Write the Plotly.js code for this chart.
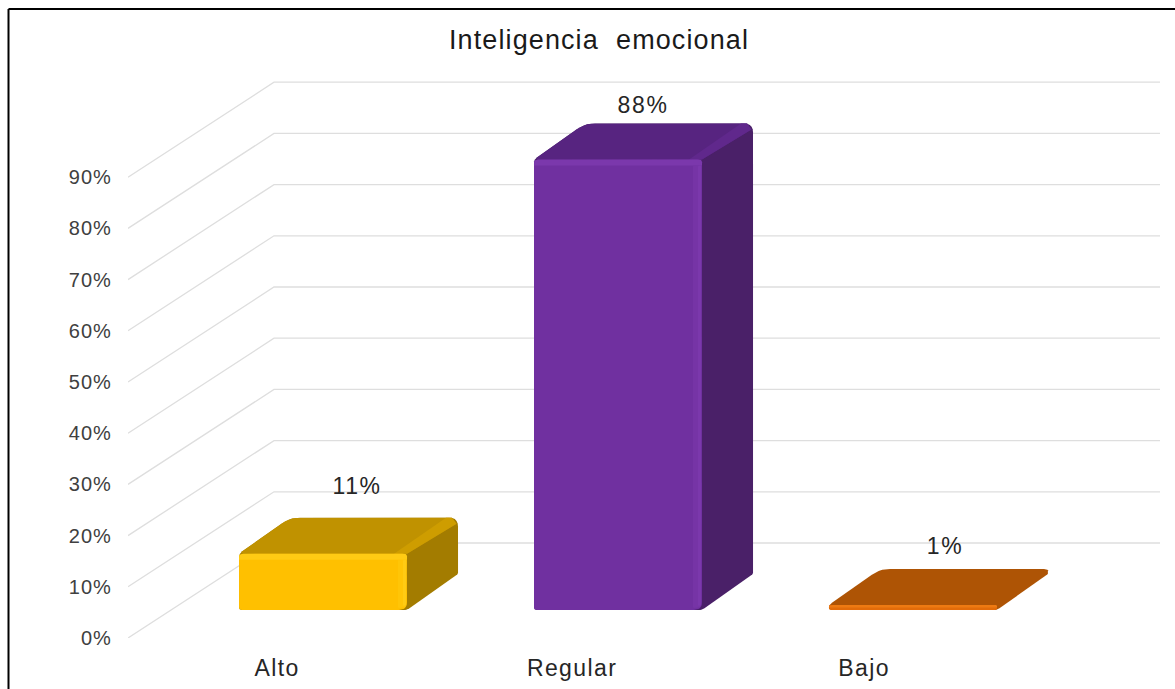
<!DOCTYPE html>
<html>
<head>
<meta charset="utf-8">
<script src="https://cdn.plot.ly/plotly-3.0.1.min.js"></script>
<style>
html,body{margin:0;padding:0;background:#fff;overflow:hidden}
#chart{width:1175px;height:689px}
.gtitle{letter-spacing:1.1px}
.ytick text{letter-spacing:1.1px}
.xtick text{letter-spacing:1.4px}
.textpoint text{letter-spacing:1.6px}
</style>
</head>
<body>
<div id="chart"></div>
<script>
// ---- data
const categories = ['Alto', 'Regular', 'Bajo'];
const values = [11, 88, 1];
const valueLabels = ['11%', '88%', '1%'];
const yTicks = [0, 10, 20, 30, 40, 50, 60, 70, 80, 90];
const frontColors = ['#FFC000', '#7030A0', '#E36C0A'];
const topColors = ['#C09200', '#572480', '#AE5405'];
const sideColors = ['#A37C00', '#4A2068', '#AE5405'];
const rimColors = ['#FFCB14', '#7B38AC', '#EE7A12'];
const sheenColors = ['#FFC507', '#7634A6', '#E36C0A'];
const edgeColors = ['#CE9D00', '#60288C', '#AE5405'];

// ---- oblique projection parameters (axis units)
const W = 1175, H = 689;
const M = {l: 128, r: 15, t: 60, b: 51};
const pxX = 295, pxY = 5.12;               // px per x unit, px per percent
const xRange = [-152 / pxX, (W - M.r - M.l - 152) / pxX];
const yRange = [0, (H - M.t - M.b) / pxY];
const depthX = 146 / pxX, depthY = 95 / pxY;  // wall depth in axis units
const d0 = 28 / 95;                        // bar front depth
const barDX = 51 / pxX, barDY = 36 / pxY;  // bar depth offset
const barW = 168 / pxX;
const project = (x, v, d) => [x + d * depthX, v + d * depthY];

function rounded(pts, radii) {
  const out = [[], []];
  const n = pts.length;
  for (let i = 0; i < n; i++) {
    const p = pts[i], a = pts[(i + n - 1) % n], b = pts[(i + 1) % n];
    const r = Array.isArray(radii) ? radii[i] : radii;
    const la = Math.hypot((a[0] - p[0]) * pxX, (a[1] - p[1]) * pxY);
    const lb = Math.hypot((b[0] - p[0]) * pxX, (b[1] - p[1]) * pxY);
    const ra = Math.min(r, la * 0.45), rb = Math.min(r, lb * 0.45);
    const s = [p[0] + (a[0] - p[0]) * (la ? ra / la : 0), p[1] + (a[1] - p[1]) * (la ? ra / la : 0)];
    const e = [p[0] + (b[0] - p[0]) * (lb ? rb / lb : 0), p[1] + (b[1] - p[1]) * (lb ? rb / lb : 0)];
    for (let k = 0; k <= 5; k++) {
      const t = k / 5, u = 1 - t;
      out[0].push(u * u * s[0] + 2 * u * t * p[0] + t * t * e[0]);
      out[1].push(u * u * s[1] + 2 * u * t * p[1] + t * t * e[1]);
    }
  }
  out[0].push(out[0][0]); out[1].push(out[1][0]);
  return out;
}
function poly(pts, color, r) {
  const c = rounded(pts, r || 0);
  return {type: 'scatter', mode: 'lines', x: c[0], y: c[1], fill: 'toself', fillcolor: color,
          line: {width: 0, color: color}, hoverinfo: 'skip', showlegend: false};
}

const traces = [];
// wall grid
yTicks.forEach(v => {
  const a = project(xRange[0], v, 0), b = project(xRange[0], v, 1);
  traces.push({type: 'scatter', mode: 'lines', x: [a[0], b[0], xRange[1]], y: [a[1], b[1], b[1]],
               line: {color: '#DEDEDE', width: 1.3}, hoverinfo: 'skip', showlegend: false});
});
// bars
categories.forEach((c, i) => {
  const v = values[i];
  const x0 = i - barW / 2, x1 = i + barW / 2;
  const fbl = project(x0, 0, d0), fbr = project(x1, 0, d0), ftr = project(x1, v, d0), ftl = project(x0, v, d0);
  const back = p => [p[0] + barDX, p[1] + barDY];
  const bbr = back(fbr), btr = back(ftr), btl = back(ftl);
  const tall = v > 3;
  // silhouette carries the side colour and the rounded outer corners
  traces.push(poly([ftl, btl, btr, bbr, fbr, fbl], sideColors[i], [4, 10, tall ? 9 : 4, 1, 3, 3]));
  if (tall) {
    const offs = (p, dx, dy) => [p[0] + dx / pxX, p[1] + dy / pxY];
    const E = offs(btr, -1.5, -6), R = offs(btr, -6, 0), R2 = offs(btr, -12, 0);
    traces.push(poly([ftl, ftr, E, R, btl], topColors[i], [4, 0, 0, 0, 10]));
    traces.push(poly([ftr, E, R, R2, offs(ftr, -13, 0)], edgeColors[i], 0));
  }
  traces.push(poly([fbl, fbr, ftr, ftl], frontColors[i], [3, tall ? 8 : 2, 5, 5]));
  // front bevel highlights
  const rimH = Math.min(6 / pxY, v * 0.5);
  if (tall) {
    const inset = 9 / pxX, inset2 = 4 / pxX, lift = 2 / pxY;
    traces.push(poly([[ftr[0] - inset, fbr[1] + lift], [fbr[0] - 2 / pxX, fbr[1] + lift], [ftr[0], ftr[1] - rimH], [ftr[0] - inset, ftr[1] - rimH]], sheenColors[i], 1));
    traces.push(poly([[ftr[0] - inset2, fbr[1] + lift * 2], [fbr[0] - 1 / pxX, fbr[1] + lift * 2], [ftr[0], ftr[1] - rimH], [ftr[0] - inset2, ftr[1] - rimH]], rimColors[i], 1));
  }
  traces.push(poly([[ftl[0], ftl[1] - rimH], [ftr[0], ftr[1] - rimH], ftr, ftl], rimColors[i], [0, 0, 4, 4]));
});
// value labels
const labelOffX = [34, 25, 32].map(p => p / pxX);
const labelOffY = [65, 52, 57].map(p => p / pxY);
traces.push({type: 'scatter', mode: 'text',
  x: categories.map((c, i) => project(i, values[i], d0)[0] + labelOffX[i]),
  y: categories.map((c, i) => project(i, values[i], d0)[1] + labelOffY[i]),
  text: valueLabels, textposition: 'middle center',
  textfont: {family: 'Liberation Sans, Arial, sans-serif', size: 23, color: '#262626'},
  hoverinfo: 'skip', showlegend: false, cliponaxis: false});

const paperX = px => (px - M.l) / (W - M.l - M.r);
const paperY = py => (H - M.b - py) / (H - M.t - M.b);
const layout = {
  width: W, height: H, margin: M,
  paper_bgcolor: '#fff', plot_bgcolor: '#fff', showlegend: false,
  title: {text: 'Inteligencia\u00A0 emocional', x: 599 / W, xanchor: 'center', y: 1 - 40 / H, yanchor: 'middle',
          font: {family: 'Liberation Sans, Arial, sans-serif', size: 27, color: '#1a1a1a'}},
  xaxis: {range: xRange, tickmode: 'array', tickvals: [-0.01, 0.99, 1.98], ticktext: categories,
          ticks: 'outside', ticklen: 9, tickcolor: 'rgba(0,0,0,0)', showgrid: false, zeroline: false, showline: false,
          tickfont: {family: 'Liberation Sans, Arial, sans-serif', size: 23, color: '#262626'}},
  yaxis: {range: yRange, tickmode: 'array', tickvals: yTicks, ticktext: yTicks.map(v => v + '%'),
          ticks: 'outside', ticklen: 11, tickcolor: 'rgba(0,0,0,0)', showgrid: false, zeroline: false, showline: false,
          tickfont: {family: 'Liberation Sans, Arial, sans-serif', size: 20, color: '#404040'}},
  shapes: [
    {type: 'line', xref: 'paper', yref: 'paper', x0: paperX(8.5), x1: paperX(W + 5), y0: paperY(9), y1: paperY(9), line: {color: '#000', width: 2}},
    {type: 'line', xref: 'paper', yref: 'paper', x0: paperX(8.5), x1: paperX(8.5), y0: paperY(9), y1: paperY(H + 5), line: {color: '#000', width: 2}}
  ]
};
Plotly.newPlot('chart', traces, layout, {displayModeBar: false, responsive: false});
</script>
</body>
</html>
